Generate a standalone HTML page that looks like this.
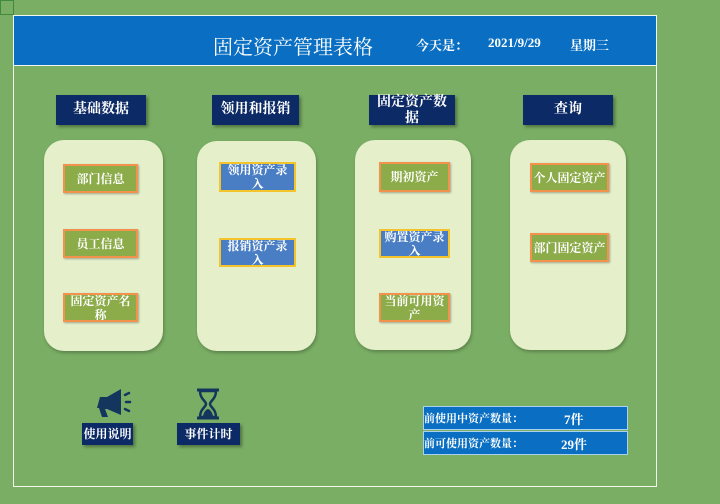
<!DOCTYPE html>
<html><head><meta charset="utf-8"><style>
*{margin:0;padding:0;box-sizing:border-box}
body{width:720px;height:504px;background:#7aae64;position:relative;overflow:hidden;font-family:"Liberation Serif","Noto Serif CJK SC",serif;color:#fff}
.a{position:absolute}
.frame{left:13px;top:15px;width:644px;height:472px;border:1.5px solid #f2f8ee}
.hdr{left:14px;top:16px;width:642px;height:50px;background:#0a6fc2;border-bottom:1.5px solid #f2f8ee}
.hb{background:#0c2a66;height:30px;font-size:14px;font-weight:bold;display:flex;align-items:center;justify-content:center;text-align:center;line-height:16px;box-shadow:2px 2px 3px rgba(0,0,0,.35)}
.pn{background:#e5f0cb;border-radius:20px;box-shadow:1px 2px 3px rgba(0,0,0,.25)}
.g{background:#8cac4a;border:2px solid #f2924c;font-size:12px;font-weight:bold;display:flex;align-items:center;justify-content:center;text-align:center;line-height:14px;box-shadow:1px 1px 2px rgba(0,0,0,.3);overflow:hidden}
.b{background:#4a7ec4;border:2px solid #f4c42a;font-size:12px;font-weight:bold;display:flex;align-items:center;justify-content:center;text-align:center;line-height:14px;overflow:hidden}
.st{left:423px;width:205px;height:24px;background:#0a6fc2;border:1.5px solid #a9d2ee;font-size:11px;font-weight:bold;display:flex;align-items:center}
</style></head><body>
<div class="a" style="left:0;top:0;width:14px;height:15px;border:1px solid #3f8a3f"></div>
<div class="a frame"></div>
<div class="a hdr"></div>
<div class="a" style="left:213px;top:31px;font-size:20px">固定资产管理表格</div>
<div class="a" style="left:416px;top:35px;font-size:13px;font-weight:bold">今天是：</div>
<div class="a" style="left:488px;top:35px;font-size:13px;font-weight:bold">2021/9/29</div>
<div class="a" style="left:570px;top:35px;font-size:13px;font-weight:bold">星期三</div>

<div class="a hb" style="left:56px;top:95px;width:90px">基础数据</div>
<div class="a hb" style="left:212px;top:95px;width:87px">领用和报销</div>
<div class="a hb" style="left:369px;top:95px;width:86px;align-items:flex-start;padding-top:0">固定资产数<br>据</div>
<div class="a hb" style="left:523px;top:95px;width:90px">查询</div>

<div class="a pn" style="left:44px;top:140px;width:119px;height:211px"></div>
<div class="a pn" style="left:197px;top:141px;width:119px;height:210px"></div>
<div class="a pn" style="left:355px;top:140px;width:116px;height:210px"></div>
<div class="a pn" style="left:510px;top:140px;width:116px;height:210px"></div>

<div class="a g" style="left:63px;top:164px;width:75px;height:29px">部门信息</div>
<div class="a g" style="left:63px;top:229px;width:75px;height:29px">员工信息</div>
<div class="a g" style="left:63px;top:293px;width:75px;height:29px">固定资产名<br>称</div>
<div class="a b" style="left:219px;top:162px;width:77px;height:30px">领用资产录<br>入</div>
<div class="a b" style="left:219px;top:238px;width:77px;height:29px">报销资产录<br>入</div>
<div class="a g" style="left:379px;top:162px;width:71px;height:30px">期初资产</div>
<div class="a b" style="left:379px;top:229px;width:71px;height:29px">购置资产录<br>入</div>
<div class="a g" style="left:379px;top:293px;width:71px;height:29px">当前可用资<br>产</div>
<div class="a g" style="left:530px;top:163px;width:79px;height:29px">个人固定资产</div>
<div class="a g" style="left:530px;top:233px;width:79px;height:29px">部门固定资产</div>

<svg class="a" style="left:97px;top:388px" width="40" height="32" viewBox="0 0 40 32">
<path d="M3 9h7l14-8v26l-14-6h-2l3 8h-6l-3-9h-2z" fill="#14365e"/>
<path d="M28 7l4-2M29 14h4M28 21l4 2" stroke="#14365e" stroke-width="2.5" stroke-linecap="round"/></svg>
<svg class="a" style="left:195px;top:388px" width="26" height="32" viewBox="0 0 26 32">
<path d="M2 2h22M2 30h22" stroke="#14365e" stroke-width="3"/>
<path d="M5 3c0 8 6 10 6 13s-6 5-6 13h16c0-8-6-10-6-13s6-5 6-13z" fill="none" stroke="#14365e" stroke-width="2.5"/>
<path d="M8 28c1-5 4-7 5-7s4 2 5 7z" fill="#14365e"/></svg>
<div class="a hb" style="left:82px;top:423px;width:51px;height:22px;font-size:12px">使用说明</div>
<div class="a hb" style="left:177px;top:423px;width:63px;height:22px;font-size:12px">事件计时</div>

<div class="a st" style="top:406px"><span style="width:140px">前使用中资产数量：</span><span style="font-size:13px">7件</span></div>
<div class="a st" style="top:431px"><span style="width:137px">前可使用资产数量：</span><span style="font-size:13px">29件</span></div>
</body></html>
